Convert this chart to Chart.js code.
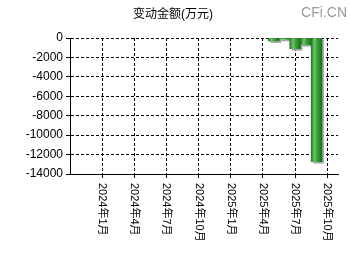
<!DOCTYPE html>
<html>
<head>
<meta charset="utf-8">
<script src="https://cdn.jsdelivr.net/npm/chart.js@4/dist/chart.umd.min.js"></script>
<style>
    html, body { margin: 0; padding: 0; background: #fff; }
    #wrap { width: 350px; height: 260px; }
</style>
</head>
<body>
<div id="wrap"><canvas id="barChart" width="350" height="260"></canvas></div>
<script>
// months with a value, and the change amount (万元)
var months = ['2025-05', '2025-06', '2025-07', '2025-08', '2025-09'];
var values = [-300, -130, -1100, -680, -12720];

// x axis runs from 2023-10 to 2025-11, one unit per month
var axisStart = '2023-10';
var axisEnd = '2025-11';
var tickMonths = ['2024-01', '2024-04', '2024-07', '2024-10', '2025-01', '2025-04', '2025-07', '2025-10'];
var tickLabels = ['2024年1月', '2024年4月', '2024年7月', '2024年10月', '2025年1月', '2025年4月', '2025年7月', '2025年10月'];

var yTicks = [0, -2000, -4000, -6000, -8000, -10000, -12000, -14000];

function monthIndex(s) {
    var p = s.split('-');
    var b = axisStart.split('-');
    return (+p[0] - +b[0]) * 12 + (+p[1] - +b[1]);
}

var points = months.map(function (m, i) {
    return { x: monthIndex(m), y: values[i] };
});

var font = 'Arial, "Liberation Sans", "Noto Sans CJK SC", sans-serif';

// gray drop shadow behind bars, then title, watermark and rotated x labels
var extras = {
    id: 'extras',
    beforeDatasetsDraw: function (chart) {
        var ctx = chart.ctx;
        ctx.save();
        ctx.fillStyle = '#a8a8a8';
        chart.getDatasetMeta(0).data.forEach(function (bar) {
            var left = bar.x - bar.width / 2;
            ctx.fillRect(left + 2, bar.base + 1, bar.width, bar.y - bar.base + 1);
        });
        ctx.restore();
    },
    afterDraw: function (chart) {
        var ctx = chart.ctx;
        var xs = chart.scales.x;
        ctx.save();
        ctx.fillStyle = '#000';
        ctx.font = '12px ' + font;
        ctx.textAlign = 'center';
        ctx.textBaseline = 'middle';
        ctx.fillText('变动金额(万元)', 173, 15);

        ctx.fillStyle = '#9a9a9a';
        ctx.font = '14px ' + font;
        ctx.textAlign = 'right';
        ctx.fillText('CFi.CN', 347, 13);

        ctx.fillStyle = '#000';
        ctx.font = '11px ' + font;
        ctx.textAlign = 'left';
        ctx.textBaseline = 'middle';
        tickMonths.forEach(function (m, i) {
            var x = xs.getPixelForValue(monthIndex(m));
            ctx.save();
            ctx.translate(x, xs.top + 9);
            ctx.rotate(Math.PI / 2);
            ctx.fillText(tickLabels[i], 0, 0);
            ctx.restore();
        });
        ctx.restore();
    }
};

// horizontal shading across each bar, placed with the x scale
function barGradient(context) {
    var chart = context.chart;
    var xs = chart.scales.x;
    if (!chart.chartArea || !xs || !context.raw) return '#3a9a3a';
    var cx = xs.getPixelForValue(context.raw.x);
    var half = (xs.getPixelForValue(1) - xs.getPixelForValue(0)) / 2;
    if (!isFinite(cx) || !isFinite(half)) return '#3a9a3a';
    var g = chart.ctx.createLinearGradient(cx - half, 0, cx + half, 0);
    g.addColorStop(0, '#1f7a22');
    g.addColorStop(0.3, '#6cc865');
    g.addColorStop(0.55, '#3aa43a');
    g.addColorStop(1, '#1d6b1f');
    return g;
}

var ctx = document.getElementById('barChart').getContext('2d');
var myBarChart = new Chart(ctx, {
    type: 'bar',
    data: {
        datasets: [{
            data: points,
            backgroundColor: barGradient,
            borderWidth: 0,
            barPercentage: 1,
            categoryPercentage: 1
        }]
    },
    plugins: [extras],
    options: {
        responsive: false,
        animation: false,
        layout: { padding: { top: 38, right: 12, left: 0, bottom: 0 } },
        plugins: {
            legend: { display: false },
            tooltip: { enabled: false }
        },
        scales: {
            x: {
                type: 'linear',
                min: 0,
                max: monthIndex(axisEnd),
                offset: false,
                afterBuildTicks: function (scale) {
                    scale.ticks = tickMonths.map(function (m) { return { value: monthIndex(m) }; });
                },
                afterFit: function (scale) { scale.height = 86; },
                ticks: { display: false },
                grid: {
                    offset: false,
                    color: '#000',
                    lineWidth: 1,
                    drawTicks: true,
                    tickLength: 4,
                    tickBorderDash: [],
                    tickColor: '#000'
                },
                border: { color: '#000', width: 1, dash: [3, 2] }
            },
            y: {
                min: -14000,
                max: 0,
                afterBuildTicks: function (scale) {
                    scale.ticks = yTicks.map(function (v) { return { value: v }; });
                },
                afterFit: function (scale) { scale.width = 70; },
                ticks: {
                    color: '#000',
                    font: { size: 12, family: font },
                    padding: 3,
                    callback: function (v) { return String(v); }
                },
                grid: {
                    color: '#000',
                    lineWidth: 1,
                    tickLength: 4,
                    tickBorderDash: [],
                    tickColor: '#000'
                },
                border: { color: '#000', width: 1, dash: [3, 2] }
            }
        }
    }
});
</script>
</body>
</html>
